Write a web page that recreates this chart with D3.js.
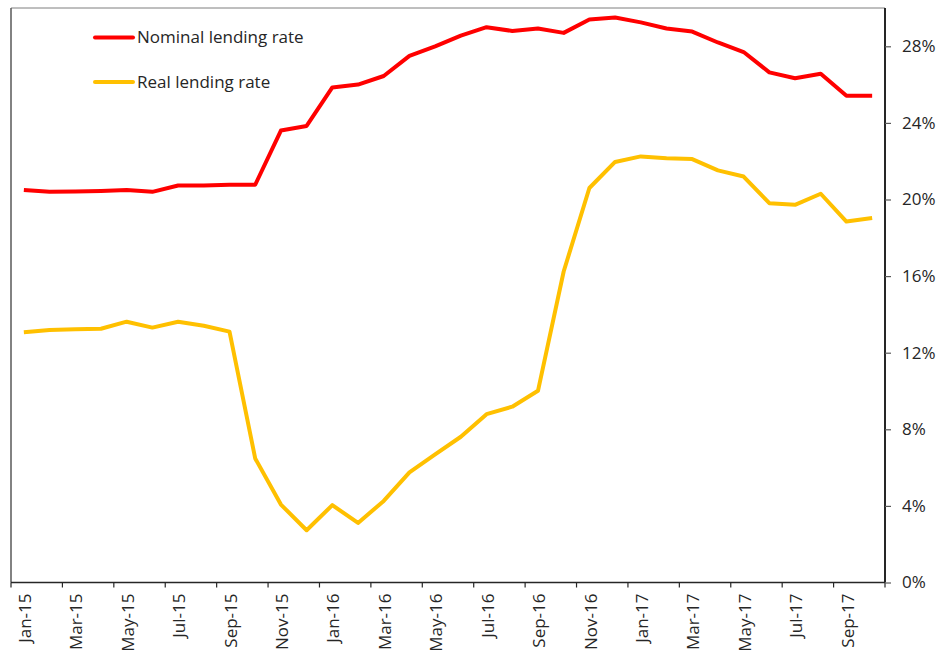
<!DOCTYPE html>
<html>
<head>
<meta charset="utf-8">
<script src="https://cdn.jsdelivr.net/npm/d3@7"></script>
<style>
  html, body { margin: 0; padding: 0; background: #fff; }
  svg { display: block; font-family: "Open Sans", sans-serif; }
</style>
</head>
<body>
<svg id="chart" width="950" height="653"></svg>
<script>
const months = ["Jan-15","Feb-15","Mar-15","Apr-15","May-15","Jun-15","Jul-15","Aug-15","Sep-15","Oct-15","Nov-15","Dec-15",
  "Jan-16","Feb-16","Mar-16","Apr-16","May-16","Jun-16","Jul-16","Aug-16","Sep-16","Oct-16","Nov-16","Dec-16",
  "Jan-17","Feb-17","Mar-17","Apr-17","May-17","Jun-17","Jul-17","Aug-17","Sep-17","Oct-17"];
const nominal = [20.5,20.4,20.42,20.45,20.5,20.4,20.73,20.73,20.77,20.77,23.6,23.84,
  25.85,26.0,26.45,27.5,28.0,28.56,29.0,28.8,28.93,28.7,29.4,29.5,
  29.25,28.93,28.77,28.2,27.7,26.64,26.33,26.57,25.42,25.42];
const real = [13.07,13.19,13.22,13.25,13.62,13.31,13.62,13.41,13.1,6.48,4.07,2.73,
  4.04,3.11,4.26,5.75,6.69,7.61,8.79,9.18,10.01,16.24,20.6,21.96,
  22.25,22.16,22.11,21.52,21.2,19.81,19.72,20.3,18.85,19.03];
const yTicks = [0,4,8,12,16,20,24,28];
const seriesNames = ["Nominal lending rate","Real lending rate"];
const seriesColors = ["#FF0000","#FFC000"];

const svg = d3.select("#chart");
const pLeft = 11, pRight = 885, pTop = 8, pBottom = 582.5;

const x = d3.scaleBand().domain(months).range([pLeft, pRight]).paddingInner(0).paddingOuter(0);
const y = d3.scaleLinear().domain([0, 30]).range([pBottom, pTop]);
const textColor = "#262626";

// top border
svg.append("line").attr("x1", pLeft).attr("x2", pRight).attr("y1", pTop).attr("y2", pTop)
  .attr("stroke", "#7f7f7f").attr("stroke-width", 1);
// left border
svg.append("line").attr("x1", pLeft).attr("x2", pLeft).attr("y1", pTop).attr("y2", pBottom)
  .attr("stroke", "#595959").attr("stroke-width", 1.5);

// x axis
const xAxisG = svg.append("g").attr("transform", `translate(0,${pBottom})`);
xAxisG.append("line").attr("x1", pLeft).attr("x2", pRight).attr("y1", 0).attr("y2", 0)
  .attr("stroke", "#262626").attr("stroke-width", 1.5);
const tickMonths = months.filter((d, i) => i % 2 === 0);
xAxisG.selectAll("line.tick").data(tickMonths.concat(["__end"])).enter().append("line")
  .attr("class", "tick")
  .attr("x1", d => d === "__end" ? pRight : x(d))
  .attr("x2", d => d === "__end" ? pRight : x(d))
  .attr("y1", 0).attr("y2", 5)
  .attr("stroke", "#262626").attr("stroke-width", 1.2);
xAxisG.selectAll("text").data(tickMonths).enter().append("text")
  .attr("transform", d => `translate(${x(d) + x.bandwidth() / 2 + 1},11) rotate(-90)`)
  .attr("text-anchor", "end")
  .attr("dy", "0.36em")
  .attr("fill", textColor)
  .attr("font-size", 17)
  .text(d => d);

// y axis (right)
const yAxis = d3.axisRight(y).tickValues(yTicks).tickSize(6).tickPadding(11)
  .tickFormat(d => d + "%");
const yAxisG = svg.append("g").attr("transform", `translate(${pRight},0)`).call(yAxis);
yAxisG.select(".domain").attr("stroke", "#262626").attr("stroke-width", 2)
  .attr("d", `M0,${pTop}V${pBottom}`);
yAxisG.selectAll(".tick line").attr("stroke", "#595959").attr("stroke-width", 1.2);
yAxisG.selectAll(".tick text").attr("fill", textColor).attr("font-size", 17)
  .attr("font-family", "'Open Sans', sans-serif");

// lines
const line = d3.line()
  .x((d, i) => x(months[i]) + x.bandwidth() / 2)
  .y(d => y(d));
[nominal, real].forEach((data, k) => {
  svg.append("path").datum(data)
    .attr("fill", "none")
    .attr("stroke", seriesColors[k])
    .attr("stroke-width", 4)
    .attr("stroke-linejoin", "round")
    .attr("d", line);
});

// legend
const legendY = [37.5, 82];
seriesNames.forEach((name, k) => {
  const g = svg.append("g").attr("transform", `translate(0,${legendY[k]})`);
  g.append("line").attr("x1", 95).attr("x2", 133).attr("y1", 0).attr("y2", 0)
    .attr("stroke", seriesColors[k]).attr("stroke-width", 4).attr("stroke-linecap", "round");
  g.append("text").attr("x", 137).attr("y", 0).attr("dy", "0.35em")
    .attr("fill", textColor).attr("font-size", 17).text(name);
});
</script>
</body>
</html>
